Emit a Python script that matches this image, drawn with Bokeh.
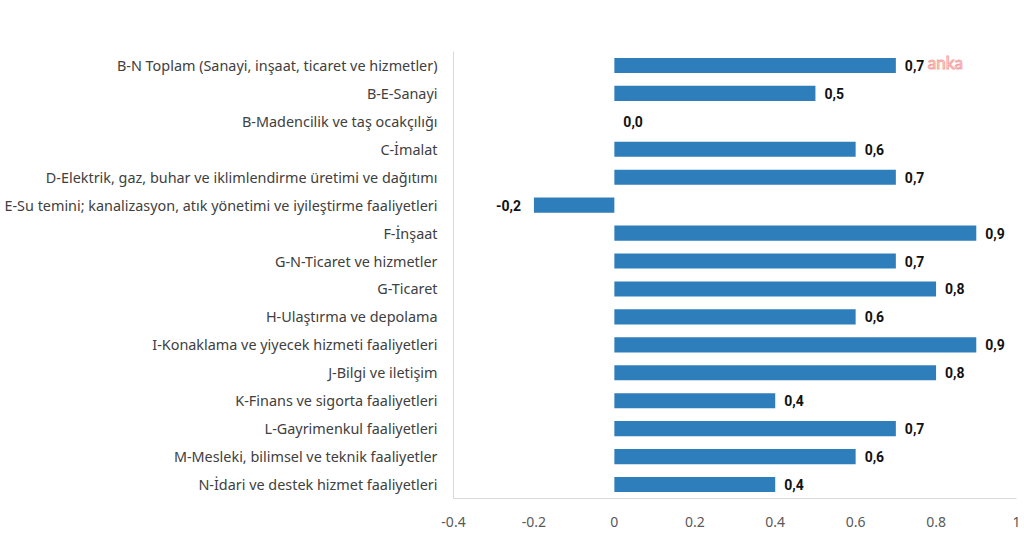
from bokeh.plotting import figure
from bokeh.models import ColumnDataSource, FactorRange, Range1d, FixedTicker
from bokeh.core.properties import value
from bokeh.embed import file_html
from bokeh.resources import INLINE

categories = [
    "B-N Toplam (Sanayi, inşaat, ticaret ve hizmetler)",
    "B-E-Sanayi",
    "B-Madencilik ve taş ocakçılığı",
    "C-İmalat",
    "D-Elektrik, gaz, buhar ve iklimlendirme üretimi ve dağıtımı",
    "E-Su temini; kanalizasyon, atık yönetimi ve iyileştirme faaliyetleri",
    "F-İnşaat",
    "G-N-Ticaret ve hizmetler",
    "G-Ticaret",
    "H-Ulaştırma ve depolama",
    "I-Konaklama ve yiyecek hizmeti faaliyetleri",
    "J-Bilgi ve iletişim",
    "K-Finans ve sigorta faaliyetleri",
    "L-Gayrimenkul faaliyetleri",
    "M-Mesleki, bilimsel ve teknik faaliyetler",
    "N-İdari ve destek hizmet faaliyetleri",
]
values = [0.7, 0.5, 0.0, 0.6, 0.7, -0.2, 0.9, 0.7, 0.8, 0.6, 0.9, 0.8, 0.4, 0.7, 0.6, 0.4]
x_ticks = [-0.4, -0.2, 0, 0.2, 0.4, 0.6, 0.8, 1]
x_tick_labels = ["-0.4", "-0.2", "0", "0.2", "0.4", "0.6", "0.8", "1"]
watermark = "anka"

labels = [f"{v:.1f}".replace(".", ",") for v in values]
aligns = ["left" if v >= 0 else "right" for v in values]
offsets = [9 if v >= 0 else -13 for v in values]

src = ColumnDataSource(dict(cat=categories, val=values, lab=labels, align=aligns, off=offsets))

p = figure(
    width=1024, height=535,
    y_range=FactorRange(factors=list(reversed(categories))),
    x_range=Range1d(-0.4, 1),
    output_backend="svg", toolbar_location=None,
    min_border_left=453, min_border_right=8, min_border_top=51, min_border_bottom=37,
)
p.outline_line_color = None
p.xgrid.visible = False
p.ygrid.visible = False

p.hbar(y="cat", left=0, right="val", height=0.54, source=src,
       fill_color="#2e7ebc", line_color=None)

p.text(x="val", y="cat", text="lab", source=src,
       text_align="align", x_offset="off", text_baseline="middle",
       text_font=value("'Liberation Sans Narrow', Roboto"), text_font_style="bold",
       text_font_size="14px", text_color="#111111")

wm_src = ColumnDataSource(dict(x=[values[0]], y=[categories[0]], t=[watermark]))
p.text(x="x", y="y", text="t", source=wm_src, x_offset=32, y_offset=-3, text_baseline="middle",
       text_font=value("Lato"), text_font_size="17px", text_font_style="normal",
       text_color="#ffffff", text_outline_color="#f4a3a3")

p.xaxis.ticker = FixedTicker(ticks=x_ticks)
p.xaxis.major_label_overrides = {t: s for t, s in zip(x_ticks, x_tick_labels)}
p.xaxis.axis_line_color = "#d9d9d9"
p.xaxis.major_tick_line_color = None
p.xaxis.minor_tick_line_color = None
p.xaxis.major_label_text_font = "Noto Sans"
p.xaxis.major_label_text_font_size = "14px"
p.xaxis.major_label_text_color = "#595959"
p.xaxis.major_label_standoff = 12

p.yaxis.axis_line_color = "#d9d9d9"
p.yaxis.major_tick_line_color = None
p.yaxis.minor_tick_line_color = None
p.yaxis.major_label_text_font = "Noto Sans"
p.yaxis.major_label_text_font_size = "14.4px"
p.yaxis.major_label_text_color = "#404040"
p.yaxis.major_label_standoff = 10

open("out.html", "w").write(file_html(p, INLINE))
